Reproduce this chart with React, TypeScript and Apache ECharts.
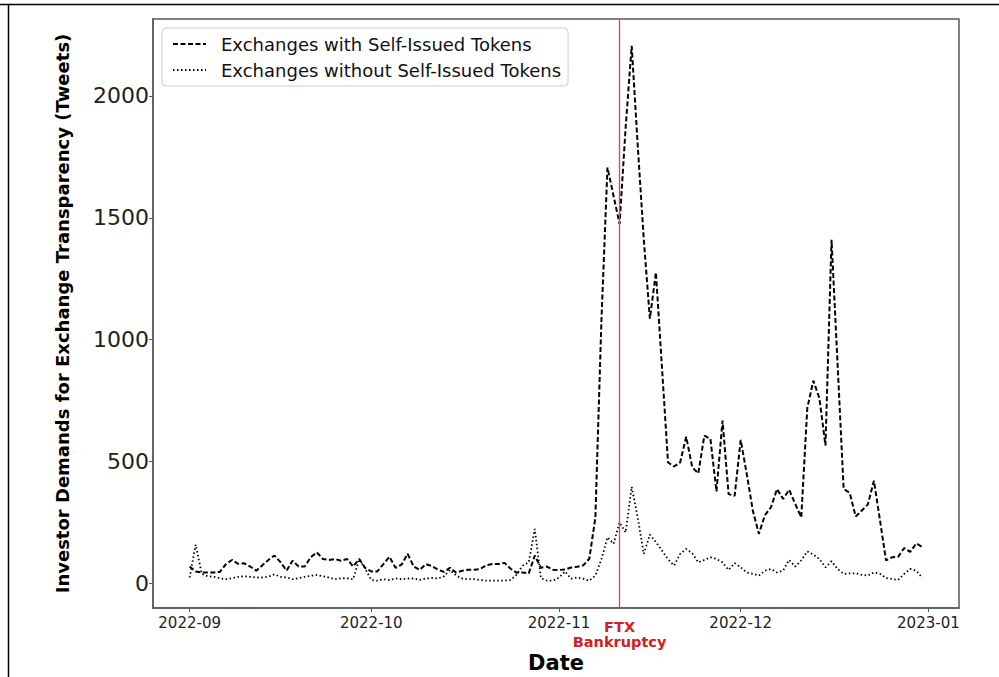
import React, { useEffect, useRef } from "react";
import * as echarts from "echarts";

// Daily tweet counts, 2022-09-01 .. 2022-12-31
const startDate = "2022-09-01";
const selfIssued = [
  70, 50, 46, 46, 46, 48, 80, 97, 81, 83, 70, 53, 75, 97, 115, 88, 53, 94, 70, 70, 108, 128, 101, 97, 101, 94, 101, 70, 101, 64,
  50, 50, 80, 110, 65, 78, 122, 70, 56, 80, 72, 57, 48, 65, 45, 53, 57, 57, 60, 76, 80, 80, 85, 61, 45, 46, 42, 115, 65, 70, 57,
  56, 58, 66, 69, 75, 102, 270, 1078, 1706, 1590, 1475, 1870, 2205, 1795, 1410, 1086, 1276, 886, 497, 480, 497, 602, 477, 452, 607, 593, 378, 668, 367, 360,
  589, 450, 300, 204, 280, 313, 388, 347, 385, 327, 272, 720, 832, 760, 566, 1410, 900, 388, 372, 275, 300, 325, 422, 260, 95, 108, 110, 146, 130, 165, 150,
];
const nonSelfIssued = [
  25, 160, 40, 30, 28, 22, 18, 22, 28, 30, 28, 25, 25, 28, 38, 28, 25, 18, 22, 28, 32, 35, 30, 25, 18, 22, 22, 18, 100, 60,
  15, 12, 18, 15, 21, 18, 21, 21, 15, 21, 23, 21, 30, 56, 33, 21, 18, 18, 15, 12, 12, 12, 12, 15, 37, 74, 87, 224, 23, 12, 12,
  25, 50, 20, 25, 20, 12, 33, 100, 190, 163, 251, 210, 397, 270, 122, 201, 170, 135, 100, 74, 122, 142, 124, 87, 97, 108, 101, 87, 56, 84,
  67, 46, 40, 33, 53, 60, 46, 53, 97, 70, 95, 132, 119, 101, 67, 92, 60, 40, 42, 42, 36, 33, 46, 40, 23, 19, 15, 40, 60, 53, 23,
];
const seriesNames = ["Exchanges with Self-Issued Tokens", "Exchanges without Self-Issued Tokens"];
const xTickDates = ["2022-09-01", "2022-10-01", "2022-11-01", "2022-12-01", "2023-01-01"];
const xTickLabels = ["2022-09", "2022-10", "2022-11", "2022-12", "2023-01"];
const yTickValues = [0, 500, 1000, 1500, 2000];
const ftxDate = "2022-11-11";
const ftxLabel = "FTX\nBankruptcy";
const xTitle = "Date";
const yTitle = "Investor Demands for Exchange Transparency (Tweets)";

const DAY = 86400000;
const toUTC = (s: string) => {
  const [y, m, d] = s.split("-").map(Number);
  return Date.UTC(y, m - 1, d);
};

export default function App() {
  const ref = useRef<HTMLDivElement>(null);
  useEffect(() => {
    if (!ref.current) return;
    const chart = echarts.init(ref.current, undefined, { renderer: "svg" });
    const t0 = toUTC(startDate);
    const times = selfIssued.map((_, i) => t0 + i * DAY);
    const span = times[times.length - 1] - t0;
    const tickTimes = xTickDates.map(toUTC);
    const font = "DejaVu Sans";
    const axisColor = "#5a5a5a";
    chart.setOption({
      animation: false,
      textStyle: { fontFamily: font },
      grid: {
        left: 153,
        right: 40,
        top: 19,
        bottom: 69,
        show: true,
        borderColor: axisColor,
        borderWidth: 1.5,
        outerBoundsMode: "none",
      },
      legend: {
        orient: "vertical",
        left: 162,
        top: 28,
        padding: [7, 7, 7, 10],
        itemGap: 8,
        itemWidth: 33,
        itemHeight: 12,
        backgroundColor: "rgba(255,255,255,0.8)",
        borderColor: "#cccccc",
        borderWidth: 1,
        borderRadius: 4,
        itemStyle: { opacity: 0 },
        textStyle: { fontSize: 18, fontFamily: font, color: "#111", padding: [0, 0, 0, 10] },
        data: seriesNames,
      },
      xAxis: {
        type: "value",
        min: t0 - span * 0.05,
        max: t0 + span * 1.05,
        name: xTitle,
        nameLocation: "middle",
        nameGap: 44,
        nameTextStyle: { fontSize: 21, fontWeight: "bold", color: "#000", fontFamily: font },
        axisLine: { show: true, onZero: false, lineStyle: { color: axisColor, width: 1.5 } },
        axisTick: { show: true, length: 4, lineStyle: { color: axisColor }, customValues: tickTimes },
        axisLabel: {
          customValues: tickTimes,
          fontSize: 15,
          color: "#222",
          margin: 7,
          formatter: (v: number) => {
            const idx = tickTimes.indexOf(v);
            return idx >= 0 ? xTickLabels[idx] : "";
          },
        },
        splitLine: { show: false },
      },
      yAxis: {
        type: "value",
        min: -100,
        max: 2315,
        name: yTitle,
        nameLocation: "middle",
        nameGap: 82,
        nameTextStyle: { fontSize: 18, fontWeight: "bold", color: "#000", fontFamily: font },
        axisLine: { show: true, onZero: false, lineStyle: { color: axisColor, width: 1.5 } },
        axisTick: { show: true, length: 4, lineStyle: { color: axisColor }, customValues: yTickValues },
        axisLabel: {
          customValues: yTickValues,
          fontSize: 22,
          color: "#222",
          margin: 4,
          formatter: (v: number) => String(v),
        },
        splitLine: { show: false },
      },
      series: [
        {
          name: seriesNames[0],
          type: "line",
          data: times.map((t, i) => [t, selfIssued[i]]),
          symbol: "none",
          showSymbol: false,
          lineStyle: { color: "#000", width: 2, type: [5, 2.5] },
          itemStyle: { color: "#000" },
          z: 3,
          markLine: {
            silent: true,
            symbol: ["none", "none"],
            lineStyle: { color: "#e04050", width: 1.3, type: "solid" },
            label: {
              show: true,
              position: "start",
              formatter: ftxLabel,
              color: "#d42020",
              fontWeight: "bold",
              fontSize: 14.5,
              lineHeight: 15,
              distance: 11,
              fontFamily: font,
            },
            data: [{ xAxis: toUTC(ftxDate) }],
          },
        },
        {
          name: seriesNames[1],
          type: "line",
          data: times.map((t, i) => [t, nonSelfIssued[i]]),
          symbol: "none",
          showSymbol: false,
          lineStyle: { color: "#000", width: 1.8, type: [1.5, 2.5] },
          itemStyle: { color: "#000" },
          z: 2,
        },
      ],
      graphic: [
        { type: "line", shape: { x1: 0, y1: 4.5, x2: 999, y2: 4.5 }, style: { stroke: "#000", lineWidth: 1.5 } },
        { type: "line", shape: { x1: 8.5, y1: 4, x2: 8.5, y2: 677 }, style: { stroke: "#000", lineWidth: 1.5 } },
      ],
    });
    return () => chart.dispose();
  }, []);
  return (
    <div
      ref={ref}
      style={{ position: "absolute", left: 0, top: 0, width: 999, height: 677, background: "#fff" }}
    />
  );
}
